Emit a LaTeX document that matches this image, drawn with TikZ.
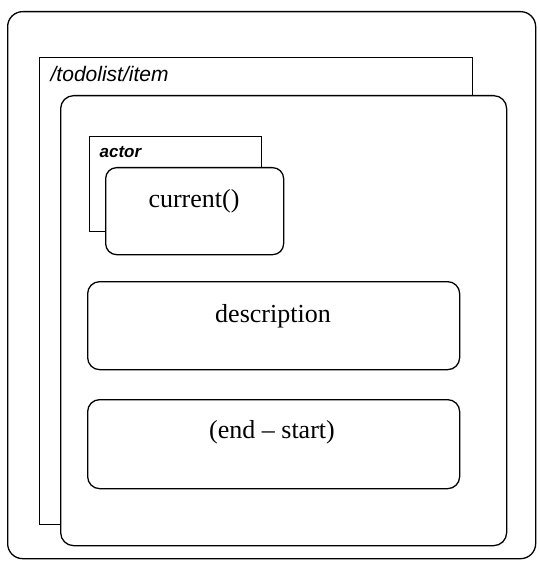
\documentclass[tikz,border=0pt]{standalone}
\usepackage{fontspec}
\setmainfont{Liberation Serif}
\newfontfamily\labelfont{Liberation Sans}
\begin{document}
\begin{tikzpicture}[x=1pt,y=-1pt, line width=1.3pt,
  rbox/.style={draw, fill=white, rounded corners=12pt, inner sep=0pt, anchor=north west},
  sbox/.style={draw, fill=white, inner sep=0pt, anchor=north west},
  serif/.style={font=\fontsize{26}{30}\selectfont},
  lbl/.style={anchor=west, inner sep=0pt}]
\useasboundingbox[fill=white] (0,0) rectangle (539,564);
\node[rbox, rounded corners=15pt, minimum width=528pt, minimum height=547pt] (outer) at (7,11) {};
\node[sbox, minimum width=433pt, minimum height=467pt] (item) at (39,57) {};
\node[lbl, font=\labelfont\itshape\fontsize{21}{24}\selectfont] (itemlbl) at (50,74) {/todolist/item};
\node[rbox, rounded corners=13pt, minimum width=446pt, minimum height=450pt] (inner) at (60,95) {};
\node[sbox, minimum width=172pt, minimum height=95pt] (actor) at (89,136) {};
\node[lbl, font=\labelfont\bfseries\itshape\fontsize{17}{20}\selectfont] (actorlbl) at (99,152) {actor};
\node[rbox, rounded corners=11pt, minimum width=178pt, minimum height=87pt] (current) at (105,167) {};
\node[serif] (currenttxt) at (194,201) {current()};
\node[rbox, minimum width=372pt, minimum height=88pt] (desc) at (87,281) {};
\node[serif] (desctxt) at (273,316) {description};
\node[rbox, minimum width=372pt, minimum height=89pt] (dur) at (87,399) {};
\node[serif] (durtxt) at (272,432) {(end -- start)};
\end{tikzpicture}
\end{document}
